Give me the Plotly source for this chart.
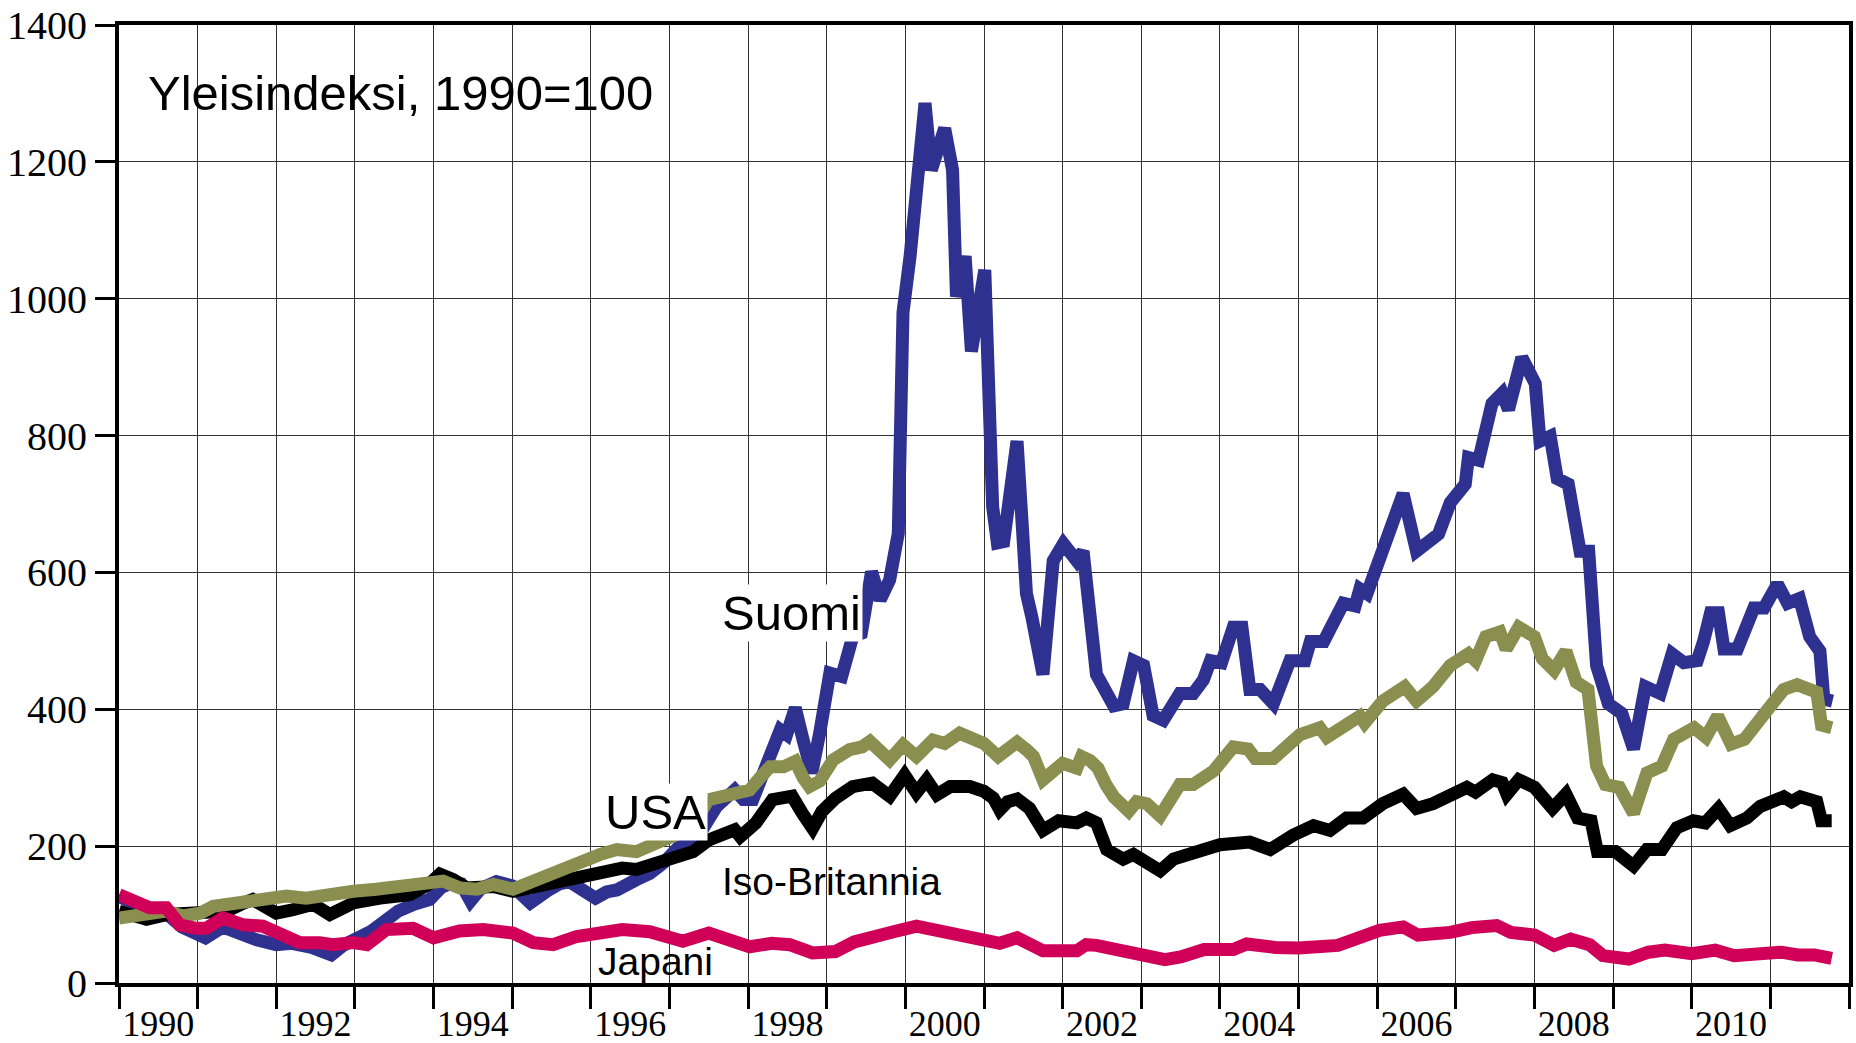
import plotly.graph_objects as go

# ---------------- data ----------------
suomi_t = [1990.0, 1990.15, 1990.33, 1990.5, 1990.62, 1990.8, 1991.0, 1991.1, 1991.32, 1991.5, 1991.75,
           1992.0, 1992.2, 1992.45, 1992.7, 1992.85, 1993.0, 1993.2, 1993.4, 1993.55, 1993.75, 1993.95,
           1994.1, 1994.25, 1994.35, 1994.47, 1994.6, 1994.8, 1995.0, 1995.23, 1995.45, 1995.6, 1995.73,
           1995.9, 1996.06, 1996.2, 1996.33, 1996.58, 1996.75, 1996.92, 1997.17, 1997.39, 1997.6, 1997.83,
           1997.94, 1998.06, 1998.24, 1998.41, 1998.49, 1998.6, 1998.7, 1998.81, 1998.91, 1999.04, 1999.19,
           1999.33, 1999.44, 1999.57, 1999.68, 1999.8, 1999.91, 1999.97, 2000.06, 2000.25, 2000.33, 2000.5,
           2000.6, 2000.65, 2000.76, 2000.84, 2001.01, 2001.11, 2001.17, 2001.25, 2001.42, 2001.54, 2001.61,
           2001.75, 2001.88, 2002.01, 2002.18, 2002.26, 2002.43, 2002.65, 2002.77, 2002.9, 2003.03, 2003.15,
           2003.28, 2003.49, 2003.66, 2003.79, 2003.88, 2004.02, 2004.17, 2004.28, 2004.38, 2004.51, 2004.68,
           2004.89, 2005.08, 2005.15, 2005.32, 2005.49, 2005.57, 2005.72, 2005.78, 2005.87, 2006.12, 2006.33,
           2006.5, 2006.63, 2006.78, 2006.93, 2007.12, 2007.16, 2007.29, 2007.46, 2007.59, 2007.67, 2007.84,
           2008.01, 2008.07, 2008.2, 2008.29, 2008.43, 2008.58, 2008.69, 2008.79, 2008.94, 2009.11, 2009.26,
           2009.41, 2009.6, 2009.75, 2009.9, 2010.07, 2010.15, 2010.24, 2010.34, 2010.41, 2010.58, 2010.79,
           2010.92, 2011.09, 2011.22, 2011.37, 2011.5, 2011.63, 2011.68, 2011.79]
suomi_v = [127, 118, 96, 101, 100, 82, 68, 66, 82, 72, 63,
           56, 58, 52, 41, 55, 62, 75, 92, 105, 115, 122,
           140, 147, 145, 120, 138, 148, 142, 117, 135, 145, 148,
           135, 124, 133, 136, 151, 160, 175, 205, 219, 258, 282,
           268, 268, 326, 370, 363, 402, 355, 307, 365, 453, 448,
           506, 511, 601, 560, 589, 657, 980, 1062, 1286, 1188, 1249,
           1188, 1003, 1062, 923, 1042, 696, 643, 645, 792, 569, 534,
           451, 617, 642, 617, 631, 451, 405, 408, 471, 464, 391,
           384, 423, 423, 443, 471, 468, 520, 520, 429, 429, 408,
           471, 471, 499, 499, 544, 555, 551, 576, 569, 645, 715,
           631, 645, 656, 702, 729, 768, 764, 847, 862, 838, 914,
           876, 792, 799, 737, 729, 631, 631, 464, 408, 394, 342,
           433, 423, 481, 468, 471, 499, 541, 541, 488, 488, 548,
           548, 583, 555, 562, 506, 485, 415, 412]

usa_t = [1990.0, 1990.3, 1990.6, 1990.81, 1991.03, 1991.2, 1991.45, 1991.7, 1992.0, 1992.13, 1992.38,
         1992.72, 1992.98, 1993.27, 1993.57, 1993.91, 1994.12, 1994.33, 1994.55, 1994.76, 1995.01, 1995.27,
         1995.48, 1995.7, 1995.9, 1996.12, 1996.33, 1996.58, 1996.92, 1997.26, 1997.5, 1997.6, 1997.85,
         1998.02, 1998.15, 1998.28, 1998.45, 1998.6, 1998.7, 1998.78, 1998.91, 1999.08, 1999.29, 1999.45,
         1999.55, 1999.7, 1999.8, 1999.97, 2000.14, 2000.35, 2000.5, 2000.69, 2000.82, 2001.0, 2001.18,
         2001.3, 2001.42, 2001.55, 2001.63, 2001.75, 2001.85, 2002.0, 2002.18, 2002.24, 2002.35, 2002.45,
         2002.55, 2002.65, 2002.84, 2002.94, 2003.07, 2003.24, 2003.49, 2003.66, 2003.92, 2004.05, 2004.17,
         2004.36, 2004.45, 2004.68, 2004.89, 2005.02, 2005.15, 2005.27, 2005.36, 2005.6, 2005.78, 2005.84,
         2006.07, 2006.35, 2006.5, 2006.71, 2006.93, 2007.16, 2007.25, 2007.38, 2007.56, 2007.64, 2007.8,
         2008.0, 2008.1, 2008.25, 2008.4, 2008.53, 2008.68, 2008.79, 2008.9, 2009.08, 2009.26, 2009.43,
         2009.62, 2009.77, 2010.03, 2010.18, 2010.33, 2010.5, 2010.67, 2010.88, 2011.17, 2011.34, 2011.59,
         2011.65, 2011.78]
usa_v = [95, 98, 105, 98, 102, 112, 117, 120, 124, 127, 124,
         127, 134, 137, 139, 146, 149, 139, 137, 144, 137, 149,
         161, 170, 180, 188, 195, 192, 209, 225, 268, 270, 278,
         282, 300, 316, 316, 324, 300, 287, 295, 326, 341, 345,
         353, 335, 326, 348, 331, 355, 350, 365, 358, 350, 331,
         340, 352, 340, 331, 297, 305, 321, 314, 331, 325, 314,
         290, 272, 251, 265, 262, 244, 290, 290, 310, 330, 345,
         342, 328, 328, 349, 363, 368, 373, 359, 378, 390, 380,
         412, 433, 412, 433, 464, 481, 471, 506, 513, 488, 520,
         506, 474, 457, 485, 440, 429, 317, 290, 286, 248, 307,
         317, 356, 373, 359, 390, 349, 356, 387, 429, 436, 425,
         377, 373]

uk_t = [1990.0, 1990.2, 1990.35, 1990.6, 1991.03, 1991.37, 1991.55, 1991.7, 1991.85, 1992.0, 1992.21,
        1992.47, 1992.68, 1992.85, 1992.98, 1993.32, 1993.7, 1993.95, 1994.08, 1994.25, 1994.42, 1994.6,
        1994.76, 1995.01, 1995.27, 1995.45, 1995.61, 1995.9, 1996.16, 1996.4, 1996.58, 1996.92, 1997.15,
        1997.3, 1997.5, 1997.83, 1997.9, 1998.1, 1998.31, 1998.56, 1998.69, 1998.82, 1998.94, 1999.11,
        1999.33, 1999.58, 1999.8, 1999.99, 2000.14, 2000.27, 2000.4, 2000.57, 2000.82, 2001.0, 2001.12,
        2001.2, 2001.3, 2001.42, 2001.58, 2001.75, 2001.95, 2002.18, 2002.3, 2002.43, 2002.56, 2002.77,
        2002.9, 2003.07, 2003.24, 2003.41, 2003.66, 2004.0, 2004.38, 2004.64, 2004.93, 2005.19, 2005.4,
        2005.61, 2005.82, 2006.07, 2006.33, 2006.5, 2006.71, 2006.93, 2007.14, 2007.25, 2007.47, 2007.59,
        2007.65, 2007.8, 2008.0, 2008.23, 2008.4, 2008.55, 2008.72, 2008.8, 2009.03, 2009.26, 2009.43,
        2009.62, 2009.81, 2010.02, 2010.17, 2010.34, 2010.49, 2010.7, 2010.87, 2011.17, 2011.27, 2011.38,
        2011.59, 2011.65, 2011.78]
uk_v = [105, 98, 93, 100, 102, 105, 115, 122, 112, 102, 107,
        115, 100, 110, 117, 124, 129, 145, 159, 151, 139, 140,
        141, 134, 141, 143, 151, 158, 166, 168, 166, 180, 190,
        192, 209, 224, 214, 234, 268, 273, 248, 226, 251, 270,
        287, 292, 273, 304, 278, 297, 275, 287, 287, 280, 270,
        253, 265, 269, 255, 223, 237, 234, 241, 234, 195, 181,
        188, 174, 164, 181, 192, 202, 206, 195, 216, 230, 223,
        241, 241, 262, 276, 255, 262, 276, 286, 279, 297, 293,
        276, 297, 286, 255, 276, 241, 237, 192, 192, 171, 195,
        195, 227, 237, 234, 255, 230, 241, 258, 272, 265, 272,
        265, 237, 237]

japani_t = [1990.0, 1990.1, 1990.26, 1990.39, 1990.6, 1990.77, 1990.98, 1991.11, 1991.32, 1991.58, 1991.83,
            1992.0, 1992.3, 1992.55, 1992.72, 1992.98, 1993.15, 1993.4, 1993.74, 1994.0, 1994.33, 1994.63,
            1995.01, 1995.27, 1995.52, 1995.82, 1996.12, 1996.4, 1996.75, 1997.17, 1997.5, 1997.75, 1998.02,
            1998.3, 1998.53, 1998.82, 1999.11, 1999.35, 1999.55, 1999.85, 2000.14, 2000.35, 2000.57, 2001.0,
            2001.2, 2001.42, 2001.75, 2002.18, 2002.3, 2002.43, 2002.9, 2003.3, 2003.5, 2003.8, 2004.17,
            2004.34, 2004.7, 2005.0, 2005.5, 2005.78, 2006.03, 2006.33, 2006.52, 2006.93, 2007.2, 2007.52,
            2007.7, 2008.0, 2008.25, 2008.46, 2008.7, 2008.87, 2009.2, 2009.45, 2009.66, 2010.0, 2010.3,
            2010.54, 2010.8, 2011.14, 2011.35, 2011.56, 2011.78]
japani_v = [129, 125, 117, 110, 110, 85, 80, 80, 95, 85, 83,
            76, 59, 59, 56, 59, 56, 78, 80, 66, 76, 78,
            73, 59, 56, 68, 71, 78, 75, 61, 73, 65, 53,
            58, 56, 44, 46, 60, 68, 75, 83, 78, 75, 63,
            58, 66, 47, 47, 56, 55, 42, 34, 38, 49, 49,
            57, 52, 51, 55, 66, 77, 82, 70, 74, 81, 84,
            74, 70, 55, 64, 56, 40, 35, 45, 48, 43, 48,
            40, 41, 45, 41, 41, 36]

year_ticks = list(range(1990, 2013))
year_labels = [str(y) for y in range(1990, 2012, 2)]
value_ticks = list(range(0, 1401, 200))

title_text = "Yleisindeksi, 1990=100"

# ---------------- figure ----------------
SANS = "Liberation Sans, Arial, sans-serif"
SERIF = "Liberation Serif, Times New Roman, serif"
LW = 13

fig = go.Figure()
series = [
    ("Suomi", suomi_t, suomi_v, "#2E3190"),
    ("Iso-Britannia", uk_t, uk_v, "#000000"),
    ("USA", usa_t, usa_v, "#8A8F50"),
    ("Japani", japani_t, japani_v, "#D00058"),
]
for name, t, v, col in series:
    fig.add_trace(go.Scatter(x=t, y=v, mode="lines", name=name,
                             line=dict(color=col, width=LW, shape="linear"),
                             hoverinfo="skip", showlegend=False))

# invisible anchor for the label axis
fig.add_trace(go.Scatter(x=[1990, 2012], y=[None, None], xaxis="x2", mode="lines",
                         showlegend=False, hoverinfo="skip"))

fig.update_layout(
    width=1856, height=1043,
    margin=dict(l=119, r=7, t=25, b=60, autoexpand=False),
    paper_bgcolor="white", plot_bgcolor="white",
    showlegend=False,
    xaxis=dict(range=[1990, 2012], tickmode="array", tickvals=year_ticks,
               showticklabels=False, ticks="outside", ticklen=22, tickwidth=3,
               tickcolor="black", showgrid=True, gridcolor="#333333", gridwidth=1,
               showline=True, linecolor="black", linewidth=4, mirror=True,
               zeroline=False, automargin=False),
    xaxis2=dict(range=[1990, 2012], overlaying="x", anchor="y", side="bottom",
                tickmode="array",
                tickvals=[int(s) + 0.5 for s in year_labels], ticktext=year_labels,
                ticks="outside", ticklen=9, tickcolor="rgba(0,0,0,0)",
                showgrid=False, showline=False, zeroline=False, automargin=False,
                ticklabeloverflow="allow",
                tickfont=dict(family=SERIF, size=36, color="black")),
    yaxis=dict(range=[0, 1400], tickmode="array", tickvals=value_ticks,
               ticktext=[str(v) for v in value_ticks],
               ticks="outside", ticklen=20, tickwidth=3, tickcolor="black",
               showgrid=True, gridcolor="#333333", gridwidth=1,
               showline=True, linecolor="black", linewidth=4, mirror=True,
               zeroline=False, automargin=False, ticklabeloverflow="allow",
               tickfont=dict(family=SERIF, size=40, color="black")),
)

fig.add_annotation(x=1990.34, y=1300, xref="x", yref="y", text=title_text,
                   showarrow=False, xanchor="left", yanchor="middle",
                   font=dict(family=SANS, size=49, color="black"))
fig.add_annotation(x=1998.55, y=540, xref="x", yref="y", text="Suomi",
                   showarrow=False, xanchor="center", yanchor="middle",
                   bgcolor="white", borderpad=1,
                   font=dict(family=SANS, size=49, color="black"))
fig.add_annotation(x=1996.82, y=250, xref="x", yref="y", text="USA",
                   showarrow=False, xanchor="center", yanchor="middle",
                   bgcolor="white", borderpad=1,
                   font=dict(family=SANS, size=49, color="black"))
fig.add_annotation(x=1999.06, y=148, xref="x", yref="y", text="Iso-Britannia",
                   showarrow=False, xanchor="center", yanchor="middle",
                   font=dict(family=SANS, size=39, color="black"))
fig.add_annotation(x=1996.82, y=32, xref="x", yref="y", text="Japani",
                   showarrow=False, xanchor="center", yanchor="middle",
                   font=dict(family=SANS, size=39, color="black"))

# remove the default 8px page margin so the figure fills the window exactly
fig.write_html("out.html", config={"displayModeBar": False},
               post_script="document.body.style.margin='0px';document.body.style.overflow='hidden';")
